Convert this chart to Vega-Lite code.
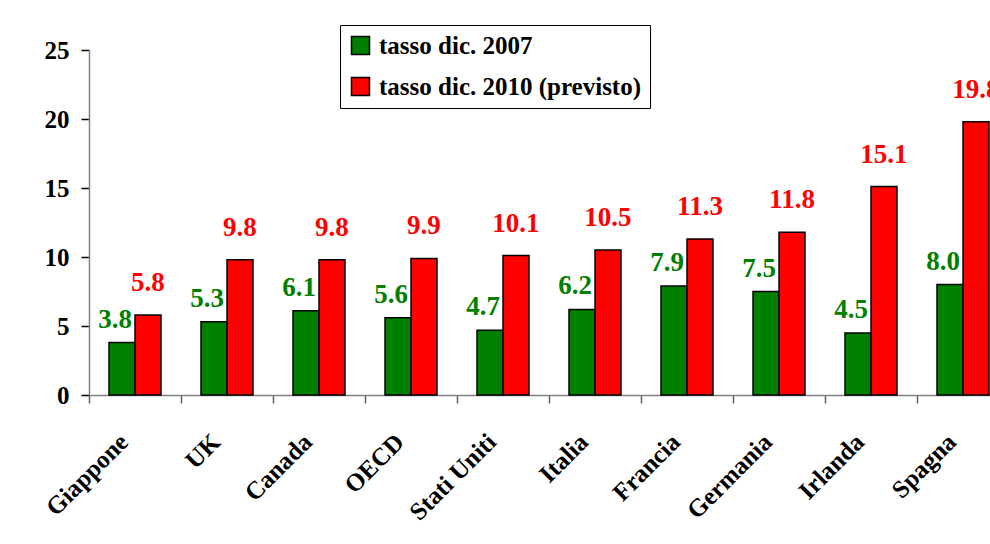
{
  "$schema": "https://vega.github.io/schema/vega-lite/v6.json",
  "autosize": {"type": "none"},
  "width": 901,
  "height": 345,
  "padding": {"left": 89, "top": 50, "right": 0, "bottom": 149},
  "background": "white",
  "config": {
    "view": {"stroke": null},
    "font": "Liberation Serif"
  },
  "data": {
    "values": [
      {"Paese": "Giappone", "Serie": "tasso dic. 2007", "Valore": 3.8},
      {"Paese": "Giappone", "Serie": "tasso dic. 2010 (previsto)", "Valore": 5.8},
      {"Paese": "UK", "Serie": "tasso dic. 2007", "Valore": 5.3},
      {"Paese": "UK", "Serie": "tasso dic. 2010 (previsto)", "Valore": 9.8},
      {"Paese": "Canada", "Serie": "tasso dic. 2007", "Valore": 6.1},
      {"Paese": "Canada", "Serie": "tasso dic. 2010 (previsto)", "Valore": 9.8},
      {"Paese": "OECD", "Serie": "tasso dic. 2007", "Valore": 5.6},
      {"Paese": "OECD", "Serie": "tasso dic. 2010 (previsto)", "Valore": 9.9},
      {"Paese": "Stati Uniti", "Serie": "tasso dic. 2007", "Valore": 4.7},
      {"Paese": "Stati Uniti", "Serie": "tasso dic. 2010 (previsto)", "Valore": 10.1},
      {"Paese": "Italia", "Serie": "tasso dic. 2007", "Valore": 6.2},
      {"Paese": "Italia", "Serie": "tasso dic. 2010 (previsto)", "Valore": 10.5},
      {"Paese": "Francia", "Serie": "tasso dic. 2007", "Valore": 7.9},
      {"Paese": "Francia", "Serie": "tasso dic. 2010 (previsto)", "Valore": 11.3},
      {"Paese": "Germania", "Serie": "tasso dic. 2007", "Valore": 7.5},
      {"Paese": "Germania", "Serie": "tasso dic. 2010 (previsto)", "Valore": 11.8},
      {"Paese": "Irlanda", "Serie": "tasso dic. 2007", "Valore": 4.5},
      {"Paese": "Irlanda", "Serie": "tasso dic. 2010 (previsto)", "Valore": 15.1},
      {"Paese": "Spagna", "Serie": "tasso dic. 2007", "Valore": 8.0},
      {"Paese": "Spagna", "Serie": "tasso dic. 2010 (previsto)", "Valore": 19.8}
    ]
  },
  "encoding": {
    "x": {
      "field": "Paese",
      "type": "nominal",
      "sort": null,
      "scale": {"paddingInner": 0, "paddingOuter": 0, "range": [0, 920]},
      "axis": {
        "title": null,
        "tickBand": "extent",
        "labelAngle": -45,
        "labelFont": "Liberation Serif",
        "labelFontSize": 25,
        "labelFontWeight": "bold",
        "labelColor": "black",
        "labelPadding": 26,
        "labelOffset": -20,
        "labelLimit": 0,
        "domainColor": "#808080",
        "domainWidth": 1.5,
        "tickColor": "#606060",
        "tickSize": 8,
        "tickWidth": 1.5,
        "grid": false
      }
    },
    "xOffset": {"field": "Serie", "type": "nominal", "scale": {"paddingInner": 0, "paddingOuter": 0.77}},
    "y": {
      "field": "Valore",
      "type": "quantitative",
      "scale": {"domain": [0, 25]},
      "axis": {
        "title": null,
        "values": [0, 5, 10, 15, 20, 25],
        "labelFont": "Liberation Serif",
        "labelFontSize": 25,
        "labelFontWeight": "bold",
        "labelColor": "black",
        "labelPadding": 12,
        "domainColor": "#808080",
        "domainWidth": 1.5,
        "tickColor": "black",
        "tickSize": 8,
        "tickWidth": 1.5,
        "grid": false
      }
    }
  },
  "layer": [
    {
      "mark": {"type": "bar", "stroke": "black", "strokeWidth": 1.5},
      "encoding": {
        "color": {
          "field": "Serie",
          "type": "nominal",
          "scale": {"domain": ["tasso dic. 2007", "tasso dic. 2010 (previsto)"], "range": ["#008000", "#FF0000"]},
          "legend": {
            "title": null,
            "orient": "none",
            "legendX": 251,
            "legendY": -25,
            "direction": "vertical",
            "strokeColor": "black",
            "fillColor": "white",
            "padding": 8,
            "symbolType": "square",
            "symbolSize": 324,
            "symbolStrokeColor": "black",
            "symbolStrokeWidth": 1.5,
            "symbolOpacity": 1,
            "labelFont": "Liberation Serif",
            "labelFontSize": 25,
            "labelFontWeight": "bold",
            "labelColor": "black",
            "labelOffset": 6,
            "labelLimit": 0,
            "rowPadding": 15
          }
        }
      }
    },
    {
      "transform": [{"filter": "datum.Serie == 'tasso dic. 2007'"}],
      "mark": {"type": "text", "baseline": "alphabetic", "dy": -15, "dx": -7, "font": "Liberation Serif", "fontSize": 27, "fontWeight": "bold", "color": "#008000"},
      "encoding": {"text": {"field": "Valore", "type": "quantitative", "format": ".1f"}}
    },
    {
      "transform": [{"filter": "datum.Serie == 'tasso dic. 2010 (previsto)'"}],
      "mark": {"type": "text", "baseline": "alphabetic", "dy": -24, "font": "Liberation Serif", "fontSize": 27, "fontWeight": "bold", "color": "#FF0000"},
      "encoding": {"text": {"field": "Valore", "type": "quantitative", "format": ".1f"}}
    }
  ]
}
